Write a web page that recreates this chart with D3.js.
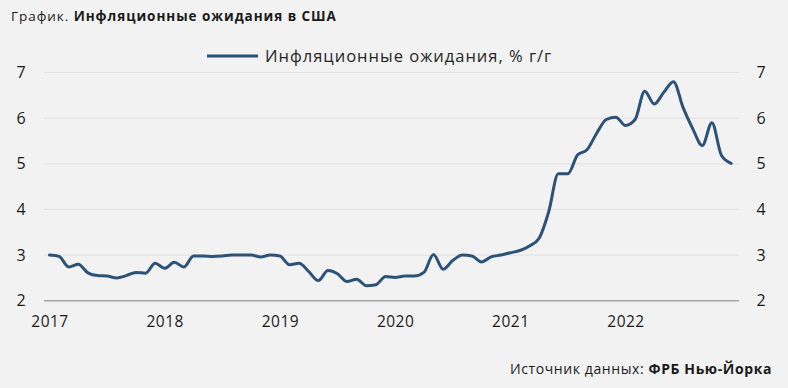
<!DOCTYPE html>
<html><head><meta charset="utf-8">
<script src="https://cdn.jsdelivr.net/npm/d3@7"></script>
<style>
html,body{margin:0;padding:0;background:#f2f2f2;}
svg{display:block;}
text{font-family:"Open Sans","Noto Sans",sans-serif;}
</style></head>
<body>
<svg id="chart" width="788" height="388"></svg>
<script>
const startYear = 2017;
const values = [
  // 2017
  3.00, 2.97, 2.74, 2.80, 2.61, 2.55, 2.54, 2.50, 2.55, 2.62, 2.60, 2.82,
  // 2018
  2.71, 2.84, 2.74, 2.98, 2.98, 2.97, 2.98, 3.00, 3.00, 3.00, 2.96, 3.00,
  // 2019
  2.98, 2.79, 2.82, 2.64, 2.44, 2.66, 2.59, 2.42, 2.47, 2.33, 2.35, 2.53,
  // 2020
  2.51, 2.54, 2.54, 2.62, 3.01, 2.69, 2.88, 3.00, 2.98, 2.85, 2.96, 3.00,
  // 2021
  3.05, 3.10, 3.20, 3.37, 3.95, 4.78, 4.78, 5.19, 5.31, 5.67, 5.97, 6.02,
  // 2022
  5.84, 5.97, 6.59, 6.31, 6.57, 6.80, 6.23, 5.77, 5.40, 5.90, 5.18, 5.01
];
const yTicks = [2, 3, 4, 5, 6, 7];
const xTickYears = [2017, 2018, 2019, 2020, 2021, 2022];
const titlePrefix = "График. ";
const titleBold = "Инфляционные ожидания в США";
const seriesName = "Инфляционные ожидания, % г/г";
const sourcePrefix = "Источник данных: ";
const sourceBold = "ФРБ Нью-Йорка";

const data = values.map((v, i) => ({ t: startYear + i / 12, v }));

const svg = d3.select("#chart");
const W = 788, H = 388;
svg.append("rect").attr("width", W).attr("height", H).attr("fill", "#f2f2f2");

const plotLeft = 44, plotRight = 739;
const x = d3.scaleLinear().domain([2017, 2022]).range([49.5, 625.5]);
const y = d3.scaleLinear().domain([2, 7]).range([300.7, 72.5]);

// gridlines
svg.append("g").selectAll("line").data(yTicks).join("line")
  .attr("x1", plotLeft).attr("x2", plotRight)
  .attr("y1", d => y(d)).attr("y2", d => y(d))
  .attr("stroke", d => d === 2 ? "#a6a6a6" : "#e3e3e3")
  .attr("stroke-width", d => d === 2 ? 1.5 : 1.2);

// left axis labels
const leftAxis = d3.axisLeft(y).tickValues(yTicks).tickSize(0).tickPadding(0).tickFormat(d3.format("d"));
const gl = svg.append("g").attr("transform", "translate(21,0)").call(leftAxis);
gl.select(".domain").remove();
gl.selectAll("text").attr("text-anchor", "middle").attr("font-size", 16).attr("fill", "#1a1a1a")
  .style("font-family", '"Open Sans",sans-serif');

const rightAxis = d3.axisRight(y).tickValues(yTicks).tickSize(0).tickPadding(0).tickFormat(d3.format("d"));
const gr = svg.append("g").attr("transform", "translate(761,0)").call(rightAxis);
gr.select(".domain").remove();
gr.selectAll("text").attr("text-anchor", "middle").attr("font-size", 16).attr("fill", "#1a1a1a")
  .style("font-family", '"Open Sans",sans-serif');

// bottom axis
const bottomAxis = d3.axisBottom(x).tickValues(xTickYears).tickSize(0).tickPadding(0).tickFormat(d3.format("d"));
const gb = svg.append("g").attr("transform", "translate(0,316)").call(bottomAxis);
gb.select(".domain").remove();
gb.selectAll("text").attr("font-size", 15.5).attr("fill", "#1a1a1a")
  .style("font-family", '"Open Sans",sans-serif').style("letter-spacing", "0.5px");

// line
const line = d3.line().x(d => x(d.t)).y(d => y(d.v)).curve(d3.curveMonotoneX);
svg.append("path").datum(data).attr("d", line)
  .attr("fill", "none").attr("stroke", "#2c5278").attr("stroke-width", 3)
  .attr("stroke-linejoin", "round").attr("stroke-linecap", "round");

// title
const title = svg.append("text").attr("x", 11).attr("y", 21).attr("font-size", 13.5).attr("fill", "#1a1a1a")
  .style("letter-spacing", "0.95px");
title.append("tspan").text(titlePrefix);
title.append("tspan").attr("font-weight", "bold").text(titleBold);

// legend
svg.append("line").attr("x1", 207).attr("x2", 258).attr("y1", 56).attr("y2", 56)
  .attr("stroke", "#2c5278").attr("stroke-width", 3);
svg.append("text").attr("x", 265).attr("y", 62).attr("font-size", 16.5).attr("fill", "#262626")
  .style("letter-spacing", "1px")
  .text(seriesName);

// source
const src = svg.append("text").attr("x", 772).attr("y", 374).attr("text-anchor", "end")
  .attr("font-size", 14).attr("fill", "#1a1a1a").style("letter-spacing", "0.6px");
src.append("tspan").text(sourcePrefix);
src.append("tspan").attr("font-weight", "bold").text(sourceBold);
</script>
</body></html>
